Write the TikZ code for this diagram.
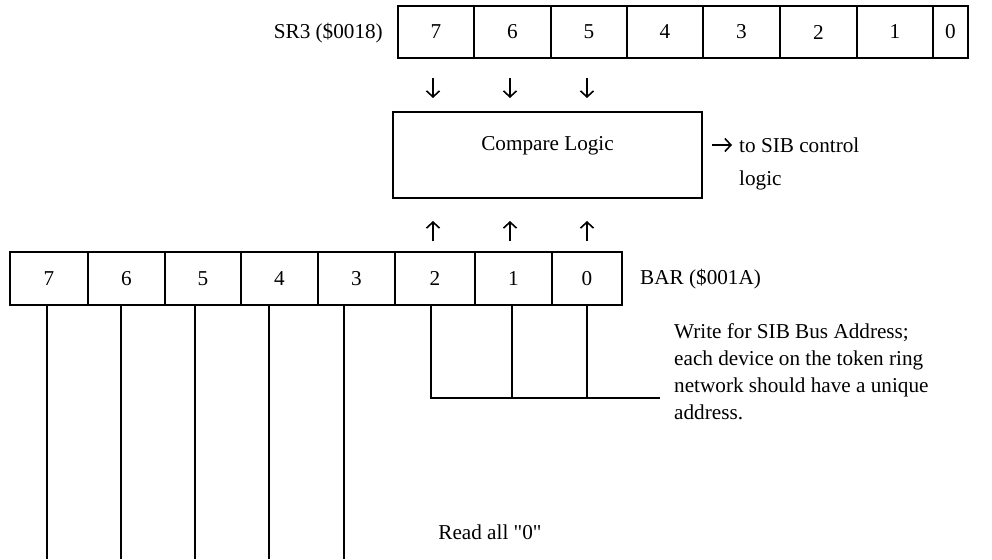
\documentclass[tikz,border=0pt]{standalone}
\usepackage{fontspec}
\setmainfont{Liberation Serif}[Ligatures=TeXOff]
\usetikzlibrary{arrows.meta}
\begin{document}
\begin{tikzpicture}[x=1pt,y=-1pt,
  every node/.style={font=\fontsize{21.2}{27}\selectfont},
  cell/.style={draw,line width=2pt,minimum height=52pt,inner sep=0pt},
  wire/.style={line width=2pt},
  arr/.style={line width=1.6pt,-{Straight Barb[length=6pt,width=13pt,line width=1.6pt]}},
  txt/.style={inner sep=0pt}]
\useasboundingbox (0,0) rectangle (992,559);
% SR3 register
\node[txt,anchor=east] (srlab) at (383,33) {SR3 (\$0018)};
\node[cell,minimum width=76pt] (s7) at (436,32) {7};
\node[cell,minimum width=77pt] (s6) at (512.5,32) {6};
\node[cell,minimum width=76pt] (s5) at (589,32) {5};
\node[cell,minimum width=76pt] (s4) at (665,32) {4};
\node[cell,minimum width=77pt] (s3) at (741.5,32) {3};
\node[cell,minimum width=77pt] (s2) at (818.5,32) {2};
\node[cell,minimum width=76pt] (s1) at (895,32) {1};
\node[cell,minimum width=35pt] (s0) at (950.5,32) {0};
% down arrows
\coordinate (d7a) at (433,78); \coordinate (d7b) at (433,98);
\coordinate (d6a) at (510,78); \coordinate (d6b) at (510,98);
\coordinate (d5a) at (587,78); \coordinate (d5b) at (587,98);
\draw[arr] (d7a) -- (d7b);
\draw[arr] (d6a) -- (d6b);
\draw[arr] (d5a) -- (d5b);
% compare logic
\node[draw,line width=2pt,minimum width=309pt,minimum height=86pt,inner sep=0pt] (cmp) at (547.5,155) {};
\node[txt] (cmptxt) at (547.5,146) {Compare Logic};
\coordinate (ra) at (712,145); \coordinate (rb) at (732,145);
\draw[arr] (ra) -- (rb);
\node[txt,anchor=base west,align=left,font=\fontsize{21.2}{33}\selectfont] (sib) at (739,185) {to SIB control\\logic};
% up arrows
\coordinate (u7a) at (433,241); \coordinate (u7b) at (433,221);
\coordinate (u6a) at (510,241); \coordinate (u6b) at (510,221);
\coordinate (u5a) at (587,241); \coordinate (u5b) at (587,221);
\draw[arr] (u7a) -- (u7b);
\draw[arr] (u6a) -- (u6b);
\draw[arr] (u5a) -- (u5b);
% BAR register
\node[cell,minimum width=78pt,minimum height=53pt] (b7) at (49,278.5) {7};
\node[cell,minimum width=77pt,minimum height=53pt] (b6) at (126.5,278.5) {6};
\node[cell,minimum width=76pt,minimum height=53pt] (b5) at (203,278.5) {5};
\node[cell,minimum width=77pt,minimum height=53pt] (b4) at (279.5,278.5) {4};
\node[cell,minimum width=77pt,minimum height=53pt] (b3) at (356.5,278.5) {3};
\node[cell,minimum width=80pt,minimum height=53pt] (b2) at (435,278.5) {2};
\node[cell,minimum width=77pt,minimum height=53pt] (b1) at (513.5,278.5) {1};
\node[cell,minimum width=70pt,minimum height=53pt] (b0) at (587,278.5) {0};
\node[txt,anchor=west] (barlab) at (640,279) {BAR (\$001A)};
% wires
\coordinate (w7) at (47,559); \coordinate (w6) at (121,559); \coordinate (w5) at (195,559);
\coordinate (w4) at (269,559); \coordinate (w3) at (344,559);
\draw[wire] (b7.south -| w7) -- (w7);
\draw[wire] (b6.south -| w6) -- (w6);
\draw[wire] (b5.south -| w5) -- (w5);
\draw[wire] (b4.south -| w4) -- (w4);
\draw[wire] (b3.south -| w3) -- (w3);
\coordinate (w2) at (431,398); \coordinate (w1) at (512,398); \coordinate (w0) at (587,398);
\coordinate (wend) at (660,398);
\draw[wire] (b2.south -| w2) -- (w2) -- (wend);
\draw[wire] (b1.south -| w1) -- (w1);
\draw[wire] (b0.south -| w0) -- (w0);
% notes
\node[txt,anchor=base west,align=left] (note) at (674,419) {Write for SIB Bus Address;\\each device on the token ring\\network should have a unique\\address.};
\node[txt] (read) at (490,532) {Read all "0"};
\end{tikzpicture}
\end{document}
